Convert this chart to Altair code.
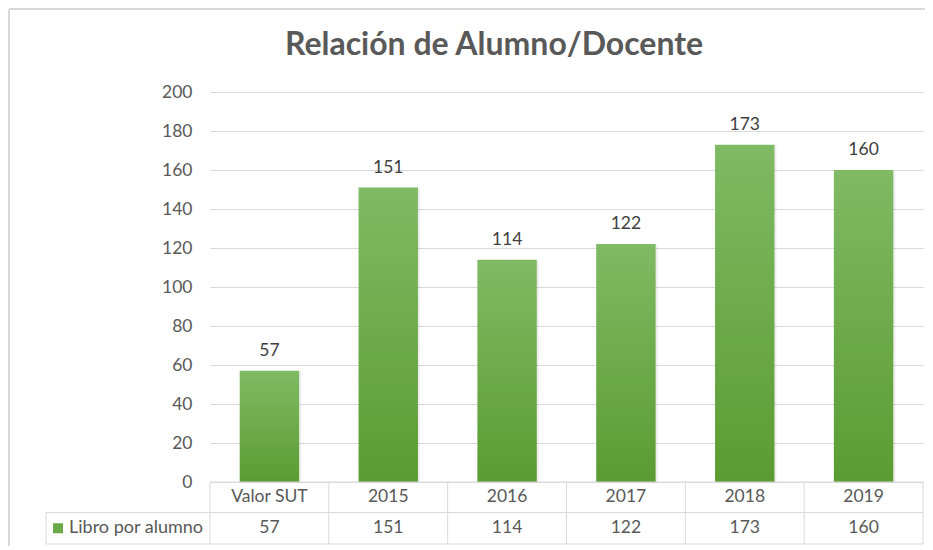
import altair as alt
import pandas as pd

categories = ["Valor SUT", "2015", "2016", "2017", "2018", "2019"]
values = [57, 151, 114, 122, 173, 160]
series_name = "Libro por alumno"
y_ticks = [0, 20, 40, 60, 80, 100, 120, 140, 160, 180, 200]
title_text = "Relación de Alumno/Docente"

df = pd.DataFrame({"cat": categories, "val": values})
one = pd.DataFrame({"label": [series_name]})

W, H = 713, 390
PT = 84
R1 = 30.5        # header row height
R2 = 31.5        # value row height
FONT = "Lato"
FS = 17.5
GREY = "#595959"
LINE = "#d9d9d9"

xband = alt.X("cat:N", sort=categories, axis=None,
              scale=alt.Scale(paddingInner=0.5, paddingOuter=0.25))
ycore = alt.Y("val:Q", scale=alt.Scale(domain=[0, 200]),
              axis=alt.Axis(values=y_ticks, grid=True, gridColor=LINE, domain=False,
                            ticks=False, labelPadding=18, labelFont=FONT, labelOverlap=False,
                            labelFontSize=FS, labelColor=GREY, title=None))

gradient = alt.Gradient(gradient="linear",
                        stops=[alt.GradientStop(color="#80ba64", offset=0),
                               alt.GradientStop(color="#5a9c31", offset=1)],
                        x1=0, x2=0, y1=0, y2=1)

shadow = alt.Chart(df).mark_bar(color="#000000", opacity=0.07, xOffset=2, yOffset=1).encode(
    x=xband, y=ycore)
bars = alt.Chart(df).mark_bar(color=gradient).encode(x=xband, y=ycore)
labels = alt.Chart(df).mark_text(baseline="bottom", dy=-11, font=FONT, fontSize=FS,
                                 color="#404040").encode(x=xband, y=ycore, text="val:Q")

xcell = alt.X("cat:N", sort=categories, axis=None,
              scale=alt.Scale(paddingInner=0, paddingOuter=0))

header = alt.Chart(df).mark_text(font=FONT, fontSize=FS, color=GREY, baseline="middle").encode(
    x=xcell, y=alt.value(H + R1 / 2), text="cat:N")
row_vals = alt.Chart(df).mark_text(font=FONT, fontSize=FS, color=GREY, baseline="middle").encode(
    x=xcell, y=alt.value(H + R1 + R2 / 2), text="val:Q")
vlines = alt.Chart(df).mark_rule(color=LINE, strokeWidth=1).encode(
    x=alt.X("cat:N", sort=categories, axis=None, bandPosition=0,
            scale=alt.Scale(paddingInner=0, paddingOuter=0)),
    y=alt.value(H), y2=alt.value(H + R1 + R2))

base1 = alt.Chart(one)
LX = -164
right_line = base1.mark_rule(color=LINE).encode(x=alt.value(W), y=alt.value(H), y2=alt.value(H + R1 + R2))
top_line = base1.mark_rule(color=LINE).encode(x=alt.value(0), x2=alt.value(W), y=alt.value(H))
mid_line = base1.mark_rule(color=LINE).encode(x=alt.value(LX), x2=alt.value(W), y=alt.value(H + R1))
bot_line = base1.mark_rule(color=LINE).encode(x=alt.value(LX), x2=alt.value(W), y=alt.value(H + R1 + R2))
left_line = base1.mark_rule(color=LINE).encode(x=alt.value(LX), y=alt.value(H + R1), y2=alt.value(H + R1 + R2))
legend_sq = base1.mark_square(size=100, color="#6aaa46", opacity=1).encode(
    x=alt.value(-152), y=alt.value(H + R1 + R2 / 2))
legend_txt = base1.mark_text(align="left", baseline="middle", font=FONT, fontSize=18,
                             color=GREY).encode(x=alt.value(-141), y=alt.value(H + R1 + R2 / 2),
                                                text="label:N")
title = base1.mark_text(align="center", baseline="middle", font=FONT, fontSize=32,
                        fontWeight="bold", color=GREY).encode(
    x=alt.value(284), y=alt.value(45 - 8 - PT), text=alt.value(title_text))
frame_top = base1.mark_rule(color=LINE, strokeWidth=2).encode(
    x=alt.value(-201), x2=alt.value(W + 10), y=alt.value(-PT + 1))
frame_left = base1.mark_rule(color=LINE, strokeWidth=2).encode(
    x=alt.value(-201), y=alt.value(-PT + 1), y2=alt.value(H + 80))

chart = alt.layer(
    frame_top, frame_left, shadow, bars, labels, header, row_vals, vlines, right_line, top_line,
    mid_line, bot_line, left_line, legend_sq, legend_txt, title
).resolve_scale(x="independent").properties(
    width=W, height=H,
    autosize=alt.AutoSizeParams(type="none"),
    padding={"left": 202, "top": PT, "right": 2, "bottom": 64},
).configure_view(stroke=None)

chart.save("out.html", embed_options={"renderer": "svg", "actions": False})
